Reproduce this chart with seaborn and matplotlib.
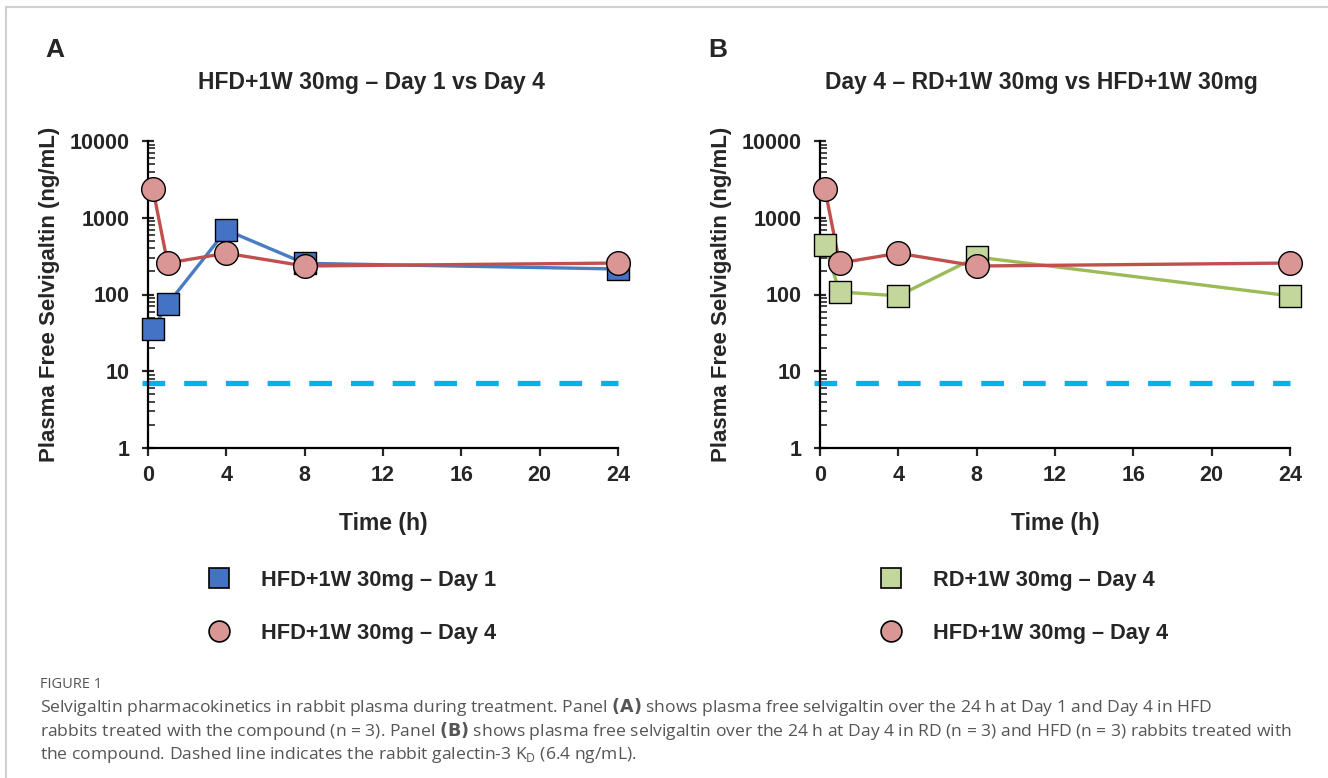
import numpy as np
import pandas as pd
import matplotlib
matplotlib.use("Agg")
import matplotlib.pyplot as plt
from matplotlib.lines import Line2D
import seaborn as sns

# ---- data ----
time_h = [0.25, 1, 4, 8, 24]
hfd_day1 = [35, 75, 690, 255, 215]
hfd_day4 = [2370, 257, 345, 235, 257]
rd_day4 = [440, 108, 96, 308, 96]
kd_line = 7.0
x_ticks = [0, 4, 8, 12, 16, 20, 24]
y_ticks = [1, 10, 100, 1000, 10000]

sns.set_theme(style="white")
plt.rcParams['font.family'] = ['Liberation Sans', 'DejaVu Sans']
plt.rcParams['mathtext.fontset'] = 'custom'
plt.rcParams['mathtext.rm'] = 'Open Sans'

W, H = 1328, 778
fig = plt.figure(figsize=(W / 100, H / 100), dpi=100)

def fx(px):
    return px / W

def fy(py):
    return 1 - py / H

BLUE_L, BLUE_F = "#4a7cc4", "#4472c4"
RED_L, RED_F = "#c0504d", "#d99694"
GRN_L, GRN_F = "#9bbb59", "#c3d69b"
KD_C = "#00b0f0"

def panel(left_px, series, title, letter, letter_px, title_px):
    ax = fig.add_axes([fx(left_px), fy(448), 470 / W, 307 / H])
    rows = []
    for name, vals, *_ in series:
        for t, v in zip(time_h, vals):
            rows.append({"time": t, "conc": v, "series": name})
    df = pd.DataFrame(rows)
    ax.set_yscale("log")
    # KD dashed line
    kd = pd.DataFrame({"time": [-0.3, 24], "conc": [kd_line, kd_line]})
    l = sns.lineplot(data=kd, x="time", y="conc", ax=ax, color=KD_C, lw=3.8,
                     legend=False)
    l.lines[-1].set_dashes([4.3, 3.6])
    l.lines[-1].set_clip_on(False)
    for name, vals, lc, fc, mk, ms in series:
        sub = df[df.series == name]
        sns.lineplot(data=sub, x="time", y="conc", ax=ax, color=lc, lw=2.4,
                     legend=False, zorder=3)
        ax.lines[-1].set_clip_on(False)
        sns.scatterplot(data=sub, x="time", y="conc", ax=ax, marker=mk,
                        s=ms, color=fc, edgecolor="black", linewidth=1.0,
                        legend=False, zorder=4, clip_on=False)
    ax.set_xlim(0, 24)
    ax.set_ylim(1, 10000)
    ax.set_xticks(x_ticks)
    ax.set_xticklabels([str(v) for v in x_ticks])
    ax.set_yticks(y_ticks)
    ax.set_yticklabels([str(v) for v in y_ticks])
    ax.yaxis.set_minor_locator(matplotlib.ticker.LogLocator(base=10, subs=np.arange(2, 10)))
    ax.yaxis.set_minor_formatter(matplotlib.ticker.NullFormatter())
    for s in ["top", "right"]:
        ax.spines[s].set_visible(False)
    for s in ["left", "bottom"]:
        ax.spines[s].set_color("black")
        ax.spines[s].set_linewidth(1.6)
    ax.tick_params(axis="y", which="major", direction="inout", length=9,
                   width=1.6, labelsize=15.5, pad=9, left=True)
    ax.tick_params(axis="y", which="minor", direction="in", length=5,
                   width=1.2, left=True)
    ax.tick_params(axis="x", which="major", direction="out", length=6,
                   width=1.6, labelsize=15.5, pad=6, bottom=True)
    for t in ax.get_xticklabels() + ax.get_yticklabels():
        t.set_fontweight("bold")
    ax.set_xlabel("Time (h)", fontsize=16.5, fontweight="bold", labelpad=19)
    ax.set_ylabel("Plasma Free Selvigaltin (ng/mL)", fontsize=16,
                  fontweight="bold", labelpad=7)
    ax.patch.set_alpha(0)
    fig.text(fx(letter_px[0]), fy(letter_px[1]), letter, fontsize=19,
             fontweight="bold", ha="center", va="center")
    fig.text(fx(title_px[0]), fy(title_px[1]), title, fontsize=16.5,
             fontweight="bold", ha="center", va="center")
    handles = [Line2D([], [], ls="none", marker="s" if mk == "s" else "o",
                      markersize=15, markerfacecolor=fc,
                      markeredgecolor="black", markeredgewidth=1.2)
               for name, vals, lc, fc, mk, ms in series]
    labels = [s[0] for s in series]
    fig.legend(handles, labels, loc="upper left",
               bbox_to_anchor=(fx(left_px + 49), fy(559)),
               frameon=False, prop={"weight": "bold", "size": 15.7},
               handletextpad=1.45, labelspacing=1.45, handlelength=1.0,
               borderpad=0)
    return ax

panel(148,
      [("HFD+1W 30mg \u2013 Day 1", hfd_day1, BLUE_L, BLUE_F, "s", 260),
       ("HFD+1W 30mg \u2013 Day 4", hfd_day4, RED_L, RED_F, "o", 290)],
      "HFD+1W 30mg \u2013 Day 1 vs Day 4", "A", (55, 50), (371, 82))
panel(820,
      [("RD+1W 30mg \u2013 Day 4", rd_day4, GRN_L, GRN_F, "s", 260),
       ("HFD+1W 30mg \u2013 Day 4", hfd_day4, RED_L, RED_F, "o", 290)],
      "Day 4 \u2013 RD+1W 30mg vs HFD+1W 30mg", "B", (718, 50), (1041, 82))

# border lines
fig.add_artist(Line2D([fx(6), 1], [fy(7), fy(7)], color="#d0d0d0", lw=1.5))
fig.add_artist(Line2D([fx(6), fx(6)], [fy(7), 0], color="#d0d0d0", lw=1.5))

cap_font = ['Open Sans', 'DejaVu Sans']
fig.text(fx(40), fy(685), "FIGURE 1", fontsize=10.5, color="#555555",
         family=cap_font, va="center")
cap_lines = [
    "Selvigaltin pharmacokinetics in rabbit plasma during treatment. Panel $\\bf{(A)}$ shows plasma free selvigaltin over the 24 h at Day 1 and Day 4 in HFD",
    "rabbits treated with the compound (n = 3). Panel $\\bf{(B)}$ shows plasma free selvigaltin over the 24 h at Day 4 in RD (n = 3) and HFD (n = 3) rabbits treated with",
    "the compound. Dashed line indicates the rabbit galectin-3 K$_\\mathrm{D}$ (6.4 ng/mL).",
]
for i, line in enumerate(cap_lines):
    fig.text(fx(40), fy(707 + 24 * i), line, fontsize=12.6, color="#555555",
             family=cap_font, va="center")

fig.savefig("out.png", dpi=100)
